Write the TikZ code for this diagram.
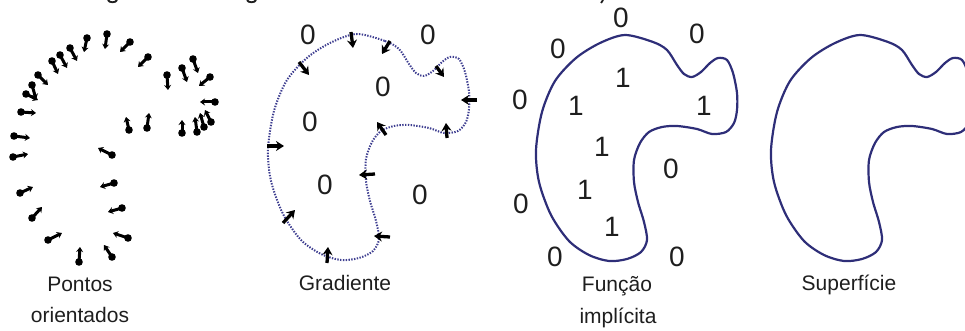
\documentclass[tikz,border=0pt]{standalone}
\usepackage{fontspec}
\setmainfont{Liberation Sans}
\usetikzlibrary{arrows.meta}

\definecolor{curveblue}{HTML}{2E2E78}
\definecolor{dotblue}{HTML}{3E3E90}
\definecolor{ink}{HTML}{1E1E1E}

\tikzset{
  blobline/.style={draw=curveblue, line width=2.2pt},
  gradline/.style={draw=dotblue, line width=2pt, dash pattern=on 1.4pt off 1.4pt},
  pinstick/.style={line width=3pt, -{Stealth[length=5pt,width=7pt]}},
  gradarrow/.style={line width=3.3pt, -{Stealth[length=8pt,width=10pt]}},
  digit/.style={font=\fontsize{28}{28}\selectfont, text=ink, inner sep=0pt},
  caption/.style={font=\fontsize{21}{21}\selectfont, text=ink, inner sep=0pt, anchor=base},
  fragment/.style={draw=ink, line width=1.8pt},
}

% closed outline of the shape, given around x = 536..737
\newcommand\blobshape[2]{%
  \draw[#1, shift={#2}] plot[smooth cycle, tension=0.5] coordinates {
    (625,35) (653,42) (667,50) (677,65) (684,74) (692,77) (701,72) (710,63)
    (718,58) (727,60) (733,73) (737,93) (737,110) (734,123) (726,132) (712,134)
    (697,129) (677,126) (662,127) (649,132) (640,143) (634,160) (634,182)
    (638,202) (644,222) (647,240) (641,252) (627,259) (609,261) (589,255)
    (569,241) (551,215) (539,182) (536,150) (542,112) (555,81) (576,58) (600,43)};}

% oriented point: dot at (#1,#2), stick towards (#3,#4)
\newcommand\orpin[4]{%
  \draw[pinstick] (#1,#2) -- (#3,#4);
  \fill (#1,#2) circle (3.8);}

\begin{document}
\begin{tikzpicture}[x=1pt, y=-1pt]
  \useasboundingbox (0,0) rectangle (965,331);
  \clip (0,0) rectangle (965,331);

  % tails of the line above, cut by the top edge
  \draw[fragment] (108,0) .. controls (109,3) and (116,3) .. (117,0);
  \draw[fragment] (247,0) .. controls (248,3) and (255,3) .. (256,0);
  \draw[fragment] (603,0) -- (601,3);

  % ---- oriented points ----
  \orpin{21}{112}{36}{113}
  \orpin{26}{94}{38}{100}
  \orpin{32}{85}{36}{99}
  \orpin{38}{75}{48}{85}
  \orpin{52}{61}{58}{74}
  \orpin{60}{55}{67}{68}
  \orpin{70}{48}{77}{61}
  \orpin{87}{38}{84}{52}
  \orpin{107}{34}{105}{49}
  \orpin{130}{42}{120}{52}
  \orpin{148}{57}{138}{67}
  \orpin{167}{75}{168}{90}
  \orpin{182}{68}{187}{82}
  \orpin{193}{59}{198}{73}
  \orpin{210}{77}{199}{86}
  \orpin{215}{102}{200}{102}
  \orpin{211}{122}{205}{110}
  \orpin{204}{127}{200}{113}
  \orpin{197}{132}{195}{117}
  \orpin{182}{133}{182}{120}
  \orpin{129}{130}{126}{117}
  \orpin{147}{128}{149}{113}
  \orpin{14}{136}{30}{138}
  \orpin{13}{157}{28}{154}
  \orpin{20}{193}{33}{187}
  \orpin{32}{218}{42}{207}
  \orpin{48}{240}{62}{233}
  \orpin{79}{262}{80}{247}
  \orpin{112}{257}{104}{245}
  \orpin{128}{238}{113}{233}
  \orpin{122}{208}{108}{212}
  \orpin{114}{183}{100}{187}
  \orpin{112}{155}{98}{148}

  \node[caption] (capA1) at (80,291) {Pontos};
  \node[caption] (capA2) at (80,322) {orientados};

  % ---- gradient ----
  \blobshape{gradline}{(-268,-1)}
  \draw[gradarrow] (351,32) -- (353,48);
  \draw[gradarrow] (390,41) -- (382,54);
  \draw[gradarrow] (436,66) -- (444,77);
  \draw[gradarrow] (477,100) -- (461,100);
  \draw[gradarrow] (447,138) -- (446,123);
  \draw[gradarrow] (386,135) -- (377,122);
  \draw[gradarrow] (375,174) -- (359,175);
  \draw[gradarrow] (390,237) -- (374,236);
  \draw[gradarrow] (327,263) -- (328,247);
  \draw[gradarrow] (283,223) -- (295,210);
  \draw[gradarrow] (267,146) -- (284,146);
  \draw[gradarrow] (299,62) -- (309,75);

  \node[digit] (g1) at (308,35) {0};
  \node[digit] (g2) at (428,35) {0};
  \node[digit] (g3) at (383,87) {0};
  \node[digit] (g4) at (310,122) {0};
  \node[digit] (g5) at (325,185) {0};
  \node[digit] (g6) at (420,195) {0};
  \node[caption] (capB) at (345,290) {Gradiente};

  % ---- implicit function ----
  \blobshape{blobline}{(0,0)}
  \node[digit] (f1) at (621,18) {0};
  \node[digit] (f2) at (697,34) {0};
  \node[digit] (f3) at (558,49) {0};
  \node[digit] (f4) at (520,100) {0};
  \node[digit] (f5) at (623,78) {1};
  \node[digit] (f6) at (576,106) {1};
  \node[digit] (f7) at (704,106) {1};
  \node[digit] (f8) at (602,147) {1};
  \node[digit] (f9) at (671,169) {0};
  \node[digit] (f10) at (585,190) {1};
  \node[digit] (f11) at (521,204) {0};
  \node[digit] (f12) at (612,227) {1};
  \node[digit] (f13) at (555,257) {0};
  \node[digit] (f14) at (677,257) {0};
  \node[caption] (capC1) at (617,291) {Função};
  \node[caption] (capC2) at (618,323) {implícita};

  % ---- surface ----
  \blobshape{blobline}{(235,0)}
  \node[caption] (capD) at (849,290) {Superfície};
\end{tikzpicture}
\end{document}
